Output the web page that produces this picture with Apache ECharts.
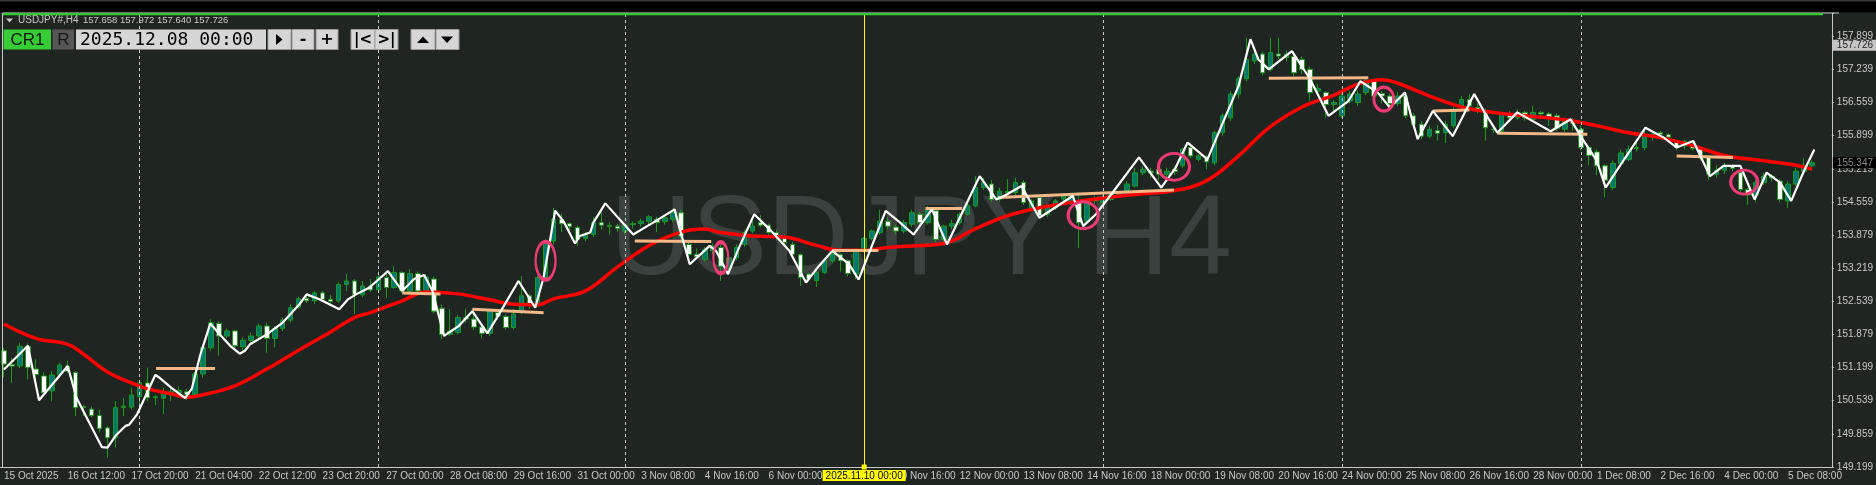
<!DOCTYPE html>
<html>
<head>
<meta charset="utf-8">
<title>USDJPY#,H4</title>
<script src="https://cdn.jsdelivr.net/npm/echarts@6/dist/echarts.min.js"></script>
<style>
  html, body { margin: 0; padding: 0; background: #1f2622; }
  #chart { width: 1876px; height: 485px; }
</style>
</head>
<body>
<div id="chart"></div>
<script>
// slots on the time scale; the last two stay empty like the terminal's right margin
const SLOT_COUNT = 230;

// H4 bars from 15 Oct 2025 04:00, one row per bar: [open, high, low, close]
const bars = [
  [151.55,151.61,151.01,151.28],[151.27,151.41,150.90,151.24],[151.24,151.71,151.20,151.64],[151.64,151.70,150.97,151.21],
  [151.18,151.38,150.90,151.07],[151.04,151.11,150.64,150.70],[150.74,151.14,150.53,151.06],[151.06,151.31,151.00,151.26],
  [151.24,151.35,151.10,151.13],[151.11,151.14,150.23,150.40],[150.42,150.45,150.23,150.40],[150.37,150.42,150.20,150.24],
  [150.24,150.36,149.89,149.98],[149.99,150.03,149.39,149.79],[149.79,150.53,149.59,150.40],[150.40,150.60,150.23,150.43],
  [150.41,150.80,150.36,150.65],[150.62,150.95,150.40,150.90],[150.90,151.21,150.53,150.60],[150.60,150.66,150.45,150.62],
  [150.59,150.80,150.27,150.68],[150.68,150.83,150.53,150.72],[150.70,150.83,150.60,150.75],[150.72,150.78,150.55,150.66],
  [150.67,151.12,150.60,151.08],[151.08,151.65,151.00,151.61],[151.61,152.19,151.55,152.12],[152.10,152.15,151.45,151.85],
  [151.85,152.00,151.80,151.95],[151.95,151.97,151.60,151.65],[151.63,151.82,151.55,151.76],[151.76,151.92,151.70,151.85],
  [151.85,152.10,151.80,152.05],[152.05,152.12,151.51,151.80],[151.80,152.05,151.62,152.00],[152.00,152.22,151.95,152.17],
  [152.17,152.49,152.12,152.42],[152.43,152.64,152.40,152.60],[152.61,152.70,152.52,152.56],[152.56,152.76,152.50,152.72],
  [152.72,152.76,152.55,152.59],[152.59,152.68,152.45,152.55],[152.56,152.93,152.52,152.89],[152.89,153.10,152.76,152.96],
  [152.96,153.00,152.29,152.69],[152.68,152.96,152.63,152.86],[152.86,153.00,152.74,152.78],[152.78,153.16,152.74,153.04],
  [153.03,153.13,152.62,152.83],[152.83,153.26,152.80,153.13],[153.13,153.16,152.72,152.76],[152.76,153.20,152.74,153.11],
  [153.11,153.15,152.70,152.76],[152.76,153.10,152.70,153.04],[153.00,153.05,152.30,152.35],[152.41,152.49,151.78,151.88],
  [151.88,152.39,151.85,151.95],[151.92,152.28,151.88,152.22],[152.22,152.40,152.12,152.19],[152.19,152.38,151.97,152.03],
  [152.03,152.10,151.80,151.90],[151.90,152.40,151.85,152.35],[152.32,152.38,152.18,152.25],[152.24,152.28,151.98,152.02],
  [152.02,152.40,151.98,152.29],[152.35,153.06,152.29,152.66],[152.66,152.70,152.40,152.49],[152.49,153.06,152.45,153.03],
  [153.03,153.80,152.98,153.77],[153.77,154.44,153.70,154.21],[154.21,154.32,153.95,154.12],[154.12,154.15,153.90,154.06],
  [154.04,154.08,153.67,153.80],[153.82,153.96,153.76,153.90],[153.90,154.25,153.85,154.14],[154.14,154.40,154.00,154.09],
  [154.08,154.15,153.90,154.07],[154.07,154.12,153.95,154.02],[153.97,154.12,153.90,154.09],[154.10,154.16,154.02,154.12],
  [154.12,154.22,154.06,154.17],[154.17,154.30,154.10,154.26],[154.21,154.26,153.95,154.14],[154.16,154.28,154.10,154.24],
  [154.21,154.40,154.15,154.34],[154.34,154.40,153.82,153.87],[153.70,153.75,153.45,153.50],[153.50,153.62,153.40,153.45],
  [153.40,153.65,153.35,153.60],[153.57,153.72,153.50,153.67],[153.64,153.70,152.96,153.26],[153.26,153.50,153.10,153.43],
  [153.43,153.70,153.38,153.64],[153.70,154.00,153.65,153.94],[153.97,154.20,153.92,154.07],[154.14,154.30,154.05,154.09],
  [154.09,154.12,153.85,153.94],[153.94,154.00,153.78,153.87],[153.84,153.90,153.68,153.74],[153.70,153.75,153.45,153.50],
  [153.49,153.52,152.86,153.03],[153.10,153.12,152.95,153.00],[152.97,153.20,152.84,153.13],[153.13,153.40,153.10,153.37],
  [153.37,153.55,153.33,153.50],[153.49,153.52,153.15,153.37],[153.37,153.40,153.05,153.11],[153.10,153.62,153.00,153.60],
  [153.60,153.85,153.58,153.82],[153.82,154.00,153.78,153.97],[153.94,154.40,153.90,154.17],[154.17,154.25,154.00,154.07],
  [154.05,154.10,153.90,153.97],[153.97,154.20,153.92,154.14],[154.11,154.40,154.05,154.34],[154.31,154.35,154.10,154.14],
  [154.14,154.48,154.10,154.40],[154.38,154.40,153.74,153.80],[153.80,154.10,153.74,154.07],[154.07,154.20,154.00,154.12],
  [154.14,154.35,154.10,154.31],[154.31,154.52,154.28,154.48],[154.48,155.08,154.45,154.85],[154.85,155.05,154.80,154.95],
  [154.92,155.00,154.55,154.61],[154.61,154.85,154.55,154.78],[154.77,155.02,154.70,154.75],[154.75,155.05,154.70,154.95],
  [154.95,155.00,154.50,154.55],[154.44,154.62,154.40,154.58],[154.65,154.68,154.22,154.28],[154.31,154.50,154.25,154.48],
  [154.44,154.62,154.40,154.58],[154.62,154.72,154.55,154.68],[154.55,154.70,154.50,154.68],[154.55,154.75,153.63,154.14],
  [154.17,154.62,154.10,154.55],[154.61,154.68,154.52,154.58],[154.55,154.70,154.50,154.65],[154.61,154.75,154.58,154.71],
  [154.71,154.78,154.65,154.73],[154.78,154.98,154.75,154.92],[154.88,155.25,154.85,155.15],[155.15,155.28,155.10,155.22],
  [155.18,155.25,155.05,155.15],[155.22,155.26,155.00,155.12],[155.12,155.25,155.05,155.18],[155.22,155.28,155.10,155.17],
  [155.29,155.66,155.25,155.62],[155.66,155.76,155.44,155.49],[155.42,155.52,155.38,155.49],[155.46,155.50,155.22,155.37],
  [155.35,156.00,155.30,155.96],[155.96,156.35,155.90,156.30],[156.26,156.80,156.20,156.74],[156.74,157.10,156.65,157.05],
  [157.05,157.88,157.00,157.44],[157.41,157.62,157.35,157.55],[157.55,157.60,157.12,157.17],[157.24,157.88,157.20,157.58],
  [157.55,157.88,157.45,157.51],[157.48,157.62,157.40,157.55],[157.50,157.60,157.10,157.17],[157.44,157.50,157.15,157.24],
  [157.24,157.30,156.60,156.77],[156.80,156.95,156.70,156.85],[156.77,156.80,156.26,156.53],[156.53,156.62,156.40,156.57],
  [156.30,156.75,156.26,156.70],[156.60,156.80,156.55,156.74],[156.57,156.82,156.50,156.74],[156.77,157.05,156.72,157.01],
  [157.00,157.04,156.62,156.70],[156.75,156.80,156.55,156.70],[156.70,156.75,156.45,156.55],[156.55,156.78,156.50,156.70],
  [156.70,156.77,156.25,156.30],[156.30,156.35,156.05,156.13],[156.13,156.20,155.83,155.89],[155.89,156.10,155.85,156.03],
  [156.00,156.12,155.80,155.95],[155.96,156.20,155.75,156.13],[156.10,156.48,156.05,156.43],[156.50,156.70,156.45,156.63],
  [156.63,156.74,156.45,156.50],[156.47,156.55,156.35,156.40],[156.40,156.45,155.80,156.06],[156.03,156.10,155.95,156.02],
  [155.99,156.38,155.95,156.33],[156.33,156.40,156.22,156.26],[156.26,156.43,156.22,156.30],[156.37,156.40,156.20,156.26],
  [156.23,156.50,156.18,156.37],[156.37,156.40,156.28,156.34],[156.34,156.38,156.10,156.25],[156.30,156.35,156.00,156.05],
  [156.03,156.26,155.98,156.20],[156.20,156.25,156.00,156.15],[156.03,156.10,155.60,155.66],[155.66,155.70,155.30,155.50],
  [155.57,155.62,155.10,155.29],[155.29,155.32,154.65,155.00],[154.85,155.40,154.80,155.34],[155.34,155.62,155.28,155.55],
  [155.42,155.70,155.38,155.62],[155.64,155.76,155.58,155.66],[155.66,156.06,155.60,155.93],[155.93,155.98,155.80,155.88],
  [155.96,156.00,155.85,155.93],[155.92,155.95,155.80,155.87],[155.76,155.80,155.60,155.66],[155.69,155.82,155.62,155.79],
  [155.69,155.80,155.60,155.64],[155.64,155.68,155.40,155.45],[155.46,155.50,155.00,155.12],[155.12,155.30,155.05,155.20],
  [155.20,155.35,155.12,155.28],[155.28,155.32,155.18,155.24],[155.15,155.20,154.75,154.81],[154.81,154.85,154.50,154.70],
  [154.70,155.00,154.55,154.95],[154.95,155.15,154.90,155.08],[155.08,155.12,154.98,155.05],[154.98,155.02,154.55,154.61],
  [154.58,154.98,154.44,154.92],[154.92,155.25,154.88,155.18],[155.18,155.45,155.10,155.30],[155.29,155.40,155.20,155.35]
];

// time scale labels, one every 8 bars
const timeLabels = [
  '15 Oct 2025', '16 Oct 12:00', '17 Oct 20:00', '21 Oct 04:00', '22 Oct 12:00', '23 Oct 20:00',
  '27 Oct 00:00', '28 Oct 08:00', '29 Oct 16:00', '31 Oct 00:00', '3 Nov 08:00', '4 Nov 16:00',
  '6 Nov 00:00', '7 Nov 08:00', '10 Nov 16:00', '12 Nov 00:00', '13 Nov 08:00', '14 Nov 16:00',
  '18 Nov 00:00', '19 Nov 08:00', '20 Nov 16:00', '24 Nov 00:00', '25 Nov 08:00', '26 Nov 16:00',
  '28 Nov 00:00', '1 Dec 08:00', '2 Dec 16:00', '4 Dec 00:00', '5 Dec 08:00'
];

// price scale labels, bottom to top
const priceLabels = [
  '149.199', '149.859', '150.539', '151.199', '151.879', '152.539', '153.219',
  '153.879', '154.559', '155.219', '155.899', '156.559', '157.239', '157.899'
];
const PRICE_MIN = 149.199;
const PRICE_STEP = 0.67;
const PRICE_MAX = 158.38;

// white swing line: [bar, price]
const swingLine = [
  [0,151.17],[3,151.65],[4.4,150.55],[8,151.24],[9.1,150.60],[12.3,149.60],[13,149.59],[14,149.83],
  [15.25,150.03],[15.7,150.05],[16.7,150.26],[19,151.06],[19.4,151.02],[21.1,150.79],[22.75,150.59],
  [23.6,150.79],[24.6,151.44],[25.9,152.10],[27.1,151.88],[28.4,151.65],[29.6,151.49],[30.25,151.55],
  [30.9,151.68],[33,151.88],[35,152.12],[37.1,152.49],[38,152.69],[39.6,152.59],[42.1,152.39],
  [43.2,152.59],[44.2,152.69],[45.9,152.83],[47.1,153.00],[48.2,153.16],[50,152.76],[51.5,153.00],
  [52.75,153.08],[53.8,152.76],[55.25,151.85],[57.1,152.05],[58.8,152.35],[60.7,151.90],[61.9,152.22],
  [64.6,152.96],[66.7,152.42],[67.75,153.03],[69.2,154.38],[70.25,154.17],[71.7,153.72],[72.3,153.87],
  [73.6,153.94],[74,154.14],[75.5,154.53],[79,153.90],[81.5,154.14],[84.2,154.41],[84.8,154.04],
  [86.1,153.30],[88.6,153.67],[89.4,153.57],[90.9,153.10],[92.3,153.64],[94.2,154.31],[96.1,154.01],
  [98.6,153.57],[100.7,152.93],[102.3,153.26],[104,153.57],[106.1,153.30],[107.3,152.99],[108.8,153.60],
  [110.7,154.38],[112.3,154.17],[114.2,153.90],[116.5,154.41],[118.4,153.70],[120.3,154.34],[122.5,155.08],
  [124.6,154.61],[125.9,154.71],[127.75,154.88],[130,154.24],[134.2,154.68],[135.5,154.07],[137.1,154.31],
  [139.2,154.75],[142.5,155.46],[145.3,154.85],[147.1,155.25],[148.6,155.76],[151.1,155.42],[153.4,156.30],
  [155,156.90],[156.5,157.85],[157.5,157.44],[158.8,157.24],[161.7,157.61],[164,157.04],[166.3,156.30],
  [168.8,156.60],[170.3,157.00],[172.5,156.77],[174,156.47],[175.9,156.77],[176.9,156.16],[177.5,155.83],
  [179.4,156.40],[181.9,155.89],[184.6,156.74],[185.9,156.37],[187.5,155.96],[190,156.37],[194.2,155.99],
  [196.7,156.23],[198.2,155.83],[200,155.39],[201.1,154.85],[203,155.32],[206.1,156.06],[208.4,155.86],
  [210,155.66],[212.1,155.79],[214.2,155.08],[215.9,155.29],[218,155.29],[219.8,154.61],[221.3,155.15],
  [223,154.95],[224.4,154.58],[225.9,155.15],[227.3,155.62]
];

// red moving average: [bar, price]
const maLine = [
  [0,152.09],[4,151.80],[8,151.68],[10,151.48],[13,151.12],[16,150.90],[18,150.78],[21,150.68],[23,150.61],
  [25,150.66],[29,150.84],[33,151.18],[37,151.56],[41,151.93],[44,152.22],[46,152.32],[50,152.56],[53,152.74],
  [57,152.70],[61,152.58],[64,152.49],[67,152.48],[69,152.60],[73,152.76],[77,153.24],[81,153.68],[85,153.95],
  [88,154.01],[90,153.94],[94,153.87],[98,153.85],[102,153.68],[105,153.58],[108,153.58],[111,153.64],
  [114,153.67],[118,153.72],[122,154.02],[126,154.28],[130,154.44],[134,154.55],[138,154.64],[142,154.71],
  [147,154.79],[151,154.99],[155,155.49],[159,156.08],[163,156.48],[167,156.72],[170,156.94],[173,157.03],
  [175,156.96],[179,156.70],[183,156.48],[187,156.37],[191,156.30],[196,156.22],[200,156.10],[204,155.96],
  [208,155.86],[212,155.70],[216,155.50],[221,155.39],[225,155.30],[227,155.22]
];

// orange levels: [[fromBar, price], [toBar, price]]
const levels = [
  [[19.1,151.19],[26.5,151.19]], [[50.0,152.72],[54.8,152.70]], [[58.8,152.39],[67.75,152.32]],
  [[79.2,153.77],[88.8,153.76]], [[104.0,153.58],[109.8,153.58]], [[115.7,154.43],[120.3,154.43]],
  [[124.8,154.65],[146.9,154.80]], [[158.8,157.06],[171.3,157.07]], [[179.4,156.40],[184.0,156.42]],
  [[187.5,155.95],[198.8,155.93]], [[210.0,155.49],[217.1,155.46]]
];

// pink rings: [bar, price, width px, height px]
const rings = [
  [68.0,153.37,20,38], [90.0,153.43,15,31], [135.5,154.29,30,27],
  [146.9,155.27,31,27], [173.25,156.64,20,24], [218.5,154.96,27,24]
];

const weekStarts = [17, 47, 78, 138, 168, 198];
const replayBar = 108;
const bidPrice = 157.726;
const lastPrice = 155.347;

// bar times for the category axis
const categories = [];
let t = Date.UTC(2025, 9, 15, 4);
while (categories.length < SLOT_COUNT) {
  const d = new Date(t);
  const wd = d.getUTCDay();
  if (wd !== 0 && wd !== 6) categories.push(d.toISOString().slice(0, 16).replace('T', ' '));
  t += 4 * 3600 * 1000;
}

const FG = '#c8c8c8';
const FONT = 'Liberation Sans';
const ELLIPSE = 'path://M0,50A50,50,0,1,1,100,50A50,50,0,1,1,0,50Z';
const HIDDEN_LINE = { color: 'rgba(0,0,0,0)', width: 0 };

function button(x, w, extra) {
  return [{
    type: 'rect', z: 100,
    shape: { x: x, y: 29.5, width: w, height: 20 },
    style: { fill: '#d6d6d6', stroke: '#9a9a9a', lineWidth: 1 }
  }].concat(extra || []);
}

const graphic = [
  // watermark
  { type: 'text', z: 1, x: 921, y: 243,
    style: { text: 'USDJPY H4', fontSize: 113, fontFamily: FONT, fill: '#3b413e', align: 'center', verticalAlign: 'middle' } },
  // top strip
  { type: 'rect', z: 100, shape: { x: 0, y: 0, width: 1876, height: 12.5 }, style: { fill: '#000' } },
  { type: 'rect', z: 100, shape: { x: 0, y: 0, width: 1876, height: 1.5 }, style: { fill: '#3a3a3a' } },
  { type: 'line', z: 100, shape: { x1: 2.5, y1: 13, x2: 2.5, y2: 468 }, style: { stroke: FG, lineWidth: 1 } },
  { type: 'line', z: 100, shape: { x1: 2.5, y1: 13, x2: 1839, y2: 13 }, style: { stroke: FG, lineWidth: 1 } },
  { type: 'rect', z: 101, shape: { x: 3, y: 13, width: 1820, height: 2.2 }, style: { fill: '#2fcc2f' } },
  // symbol line
  { type: 'polygon', z: 100, shape: { points: [[6, 18.5], [13, 18.5], [9.5, 22.5]] }, style: { fill: FG } },
  { type: 'text', z: 100, x: 18, y: 20.5,
    style: { text: 'USDJPY#,H4', fontSize: 10, fontFamily: FONT, fill: FG, verticalAlign: 'middle' } },
  { type: 'text', z: 100, x: 83, y: 20.5,
    style: { text: '157.658 157.972 157.640 157.726', fontSize: 9.5, fontFamily: FONT, fill: FG, verticalAlign: 'middle' } },
  // replay controls
  { type: 'rect', z: 100, shape: { x: 3.5, y: 29.5, width: 47.5, height: 20 }, style: { fill: '#35cc35' } },
  { type: 'text', z: 101, x: 27.5, y: 40,
    style: { text: 'CR1', fontSize: 17, fontFamily: FONT, fill: '#101010', align: 'center', verticalAlign: 'middle' } },
  { type: 'rect', z: 100, shape: { x: 52.5, y: 29.5, width: 21.5, height: 20 }, style: { fill: '#575757' } },
  { type: 'text', z: 101, x: 63.5, y: 40,
    style: { text: 'R', fontSize: 17, fontFamily: FONT, fill: '#151515', align: 'center', verticalAlign: 'middle' } },
  { type: 'rect', z: 100, shape: { x: 76, y: 29.5, width: 190, height: 20 }, style: { fill: '#d6d6d6' } },
  { type: 'text', z: 101, x: 80, y: 40,
    style: { text: '2025.12.08 00:00', fontSize: 18, fontFamily: 'DejaVu Sans Mono', fill: '#000', verticalAlign: 'middle' } }
]
  .concat(button(268, 23, [{ type: 'polygon', z: 101, shape: { points: [[276, 34], [276, 45], [282.5, 39.5]] }, style: { fill: '#000' } }]))
  .concat(button(292, 22, [{ type: 'text', z: 101, x: 303, y: 40, style: { text: '-', fontSize: 16, fontWeight: 'bold', fontFamily: 'DejaVu Sans', fill: '#000', align: 'center', verticalAlign: 'middle' } }]))
  .concat(button(316, 22, [{ type: 'text', z: 101, x: 327, y: 40, style: { text: '+', fontSize: 16, fontWeight: 'bold', fontFamily: 'DejaVu Sans', fill: '#000', align: 'center', verticalAlign: 'middle' } }]))
  .concat(button(351, 24, [{ type: 'text', z: 101, x: 363, y: 40, style: { text: '|<', fontSize: 15, fontWeight: 'bold', fontFamily: 'DejaVu Sans', fill: '#000', align: 'center', verticalAlign: 'middle' } }]))
  .concat(button(375, 23, [{ type: 'text', z: 101, x: 386.5, y: 40, style: { text: '>|', fontSize: 15, fontWeight: 'bold', fontFamily: 'DejaVu Sans', fill: '#000', align: 'center', verticalAlign: 'middle' } }]))
  .concat(button(411, 24, [{ type: 'polygon', z: 101, shape: { points: [[417, 43], [429, 43], [423, 36.5]] }, style: { fill: '#000' } }]))
  .concat(button(436, 23, [{ type: 'polygon', z: 101, shape: { points: [[441, 36.5], [453, 36.5], [447, 43]] }, style: { fill: '#000' } }]));

const markLineData = weekStarts.map((b) => ({
  xAxis: b,
  lineStyle: { color: FG, type: [3, 3], width: 1 }
})).concat([
  {
    xAxis: replayBar,
    symbol: ['rect', 'rect'], symbolSize: 5,
    lineStyle: { color: '#ffff00', type: 'solid', width: 1 },
    label: { show: true, position: 'start', distance: 3, formatter: '2025.11.10 00:00',
      backgroundColor: '#ffff00', color: '#000', fontSize: 10, fontFamily: FONT, padding: [1, 3, 0, 3] }
  }
]);

// price tags at the right edge, drawn as invisible horizontal marker lines
const priceTags = [
  {
    yAxis: bidPrice,
    lineStyle: HIDDEN_LINE,
    label: { show: true, position: 'end', distance: 1, formatter: bidPrice.toFixed(3), opacity: 1,
      backgroundColor: '#c4c4c4', color: '#222', fontSize: 10, fontFamily: FONT, padding: [1, 4, 0, 4] }
  },
  {
    yAxis: lastPrice,
    lineStyle: HIDDEN_LINE,
    label: { show: true, position: 'end', distance: 1, formatter: lastPrice.toFixed(3), opacity: 1,
      backgroundColor: '#000', color: '#8c8c8c', fontSize: 10, fontFamily: FONT, padding: [1, 4, 0, 4] }
  }
];

const chart = echarts.init(document.getElementById('chart'));
chart.setOption({
  backgroundColor: '#1f2622',
  animation: false,
  grid: { left: -0.7, right: 36.7, top: 13, bottom: 18 },
  xAxis: [
    {
      type: 'category',
      data: categories,
      boundaryGap: true,
      axisLine: { lineStyle: { color: FG, width: 1 } },
      axisTick: { interval: 7, alignWithLabel: true, length: 3, lineStyle: { color: FG } },
      axisLabel: {
        interval: 7, align: 'left', margin: 4, color: FG, fontSize: 10, fontFamily: FONT,
        formatter: (v, i) => timeLabels[i / 8] || ''
      },
      splitLine: { show: false }
    },
    { type: 'value', min: -0.5, max: SLOT_COUNT - 0.5, show: false }
  ],
  yAxis: [
    { type: 'value', position: 'right', min: PRICE_MIN, max: PRICE_MAX, show: false },
    {
      type: 'value', position: 'right',
      min: 0, max: (PRICE_MAX - PRICE_MIN) / PRICE_STEP, interval: 1,
      axisLine: { show: true, lineStyle: { color: FG, width: 1 } },
      axisTick: { show: true, length: 2, lineStyle: { color: FG } },
      axisLabel: {
        margin: 5, color: FG, fontSize: 10, fontFamily: FONT,
        formatter: (v) => (Math.abs(v - Math.round(v)) < 1e-6 ? priceLabels[Math.round(v)] || '' : '')
      },
      splitLine: { show: false }
    }
  ],
  graphic: graphic,
  series: [
    {
      name: 'USDJPY#',
      type: 'candlestick',
      xAxisIndex: 0, yAxisIndex: 0,
      barWidth: 5,
      data: bars.map(([o, h, l, c]) => [o, c, l, h]),
      itemStyle: {
        color: '#00786f', color0: '#ffffff',
        borderColor: '#1c9a1c', borderColor0: '#1c9a1c', borderWidth: 1
      },
      markLine: { silent: true, symbol: 'none', animation: false, data: priceTags },
      z: 2
    },
    {
      name: 'MA',
      type: 'line',
      xAxisIndex: 1, yAxisIndex: 0,
      data: maLine,
      smooth: 0.4,
      showSymbol: false,
      lineStyle: { color: '#ff0000', width: 3.5 },
      z: 3
    },
    {
      name: 'levels',
      type: 'lines',
      coordinateSystem: 'cartesian2d',
      xAxisIndex: 1, yAxisIndex: 0,
      data: levels.map((c) => ({ coords: c })),
      lineStyle: { color: '#f4b886', width: 3, opacity: 1, curveness: 0 },
      z: 4
    },
    {
      name: 'swing',
      type: 'line',
      xAxisIndex: 1, yAxisIndex: 0,
      data: swingLine,
      showSymbol: false,
      lineStyle: { color: '#ffffff', width: 2.2 },
      markLine: { silent: true, symbol: 'none', animation: false, label: { show: false }, data: markLineData },
      z: 5
    },
    {
      name: 'rings',
      type: 'scatter',
      xAxisIndex: 1, yAxisIndex: 0,
      data: rings,
      symbol: ELLIPSE,
      symbolSize: (v) => [v[2], v[3]],
      itemStyle: { color: 'rgba(0,0,0,0)', borderColor: '#ee3b73', borderWidth: 3, opacity: 1 },
      z: 6
    }
  ]
});
</script>
</body>
</html>
